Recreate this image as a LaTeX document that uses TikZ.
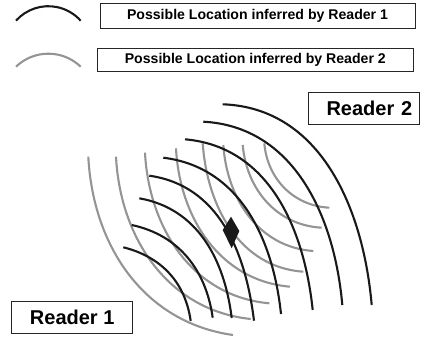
\documentclass[tikz,border=0pt]{standalone}
\usepackage{fontspec}
\setmainfont{Liberation Sans}
\usepackage{tikz}

\begin{document}
\begin{tikzpicture}[x=1pt,y=1pt,
		    rone/.style={line width=2.1pt,draw=black!90},
		    rtwo/.style={line width=2.1pt,draw=black!42},
		    lbox/.style={draw=black!85,line width=0.8pt,inner sep=0pt,font=\fontsize{14.1}{17}\selectfont\bfseries},
		    rbox/.style={draw=black!85,line width=0.8pt,inner sep=0pt,font=\fontsize{20}{24}\selectfont\bfseries}]
		    \useasboundingbox (0,0) rectangle (421,338);
		
		    \draw[rone] (16,317.3) arc[start angle=138.3,end angle=41.7,radius=43.3];
		    \draw[rtwo] (16,271.3) arc[start angle=133.8,end angle=46.2,radius=46.75];
		    \node[lbox,minimum width=315pt,minimum height=25pt] (keyone) at (257.5,322.2) {Possible Location inferred by Reader 1};
		    \node[lbox,minimum width=316pt,minimum height=23.4pt] (keytwo) at (255.3,278) {Possible Location inferred by Reader 2};
		
		    \draw[rtwo] (88.3,181.3) to[out=-87,in=172] (233,3);
		    \draw[rtwo] (116,181.3) to[out=-87,in=174] (250.7,19);
		    \draw[rtwo] (145,185.3) to[out=-87,in=175] (269.3,34.7);
		    \draw[rtwo] (176,189.7) to[out=-87,in=175] (290,51.3);
		    \draw[rtwo] (202.7,194.7) to[out=-86,in=176] (303.3,66.3);
		    \draw[rtwo] (223.3,193) to[out=-86,in=176] (313.3,87);
		    \draw[rtwo] (242.7,193) to[out=-85,in=177] (321.7,110.3);
		    \draw[rtwo] (264.3,194.7) to[out=-85,in=177] (329.3,130.3);
		
		    \draw[rone] (222.7,233.7) to[out=-2,in=95] (371.7,33);
		    \draw[rone] (203.3,216.3) to[out=-3,in=95] (342.3,33);
		    \draw[rone] (185,198.7) to[out=-5,in=96] (312.7,28);
		    \draw[rone] (163.3,180.3) to[out=-7,in=96] (281,24);
		    \draw[rone] (149.3,162.3) to[out=-8,in=97] (254,17.3);
		    \draw[rone] (139.3,139.7) to[out=-10,in=97] (231.7,20);
		    \draw[rone] (131.7,113) to[out=-12,in=98] (212.7,20.3);
		    \draw[rone] (123.3,90.7) to[out=-14,in=98] (190.7,17);
		
		    \fill[black!90] (231,121.3) -- (239.3,107) -- (231.7,89.7) -- (222.7,108) -- cycle;
		
		    \node[rbox,minimum width=121pt,minimum height=32.3pt] (readerone) at (72.2,20.85) {Reader 1};
		    \node[rbox,minimum height=32pt,text width=96.3pt,inner xsep=7.7pt,align=right] (readertwo) at (364,230) {Reader 2};
	    \end{tikzpicture}
\end{document}
